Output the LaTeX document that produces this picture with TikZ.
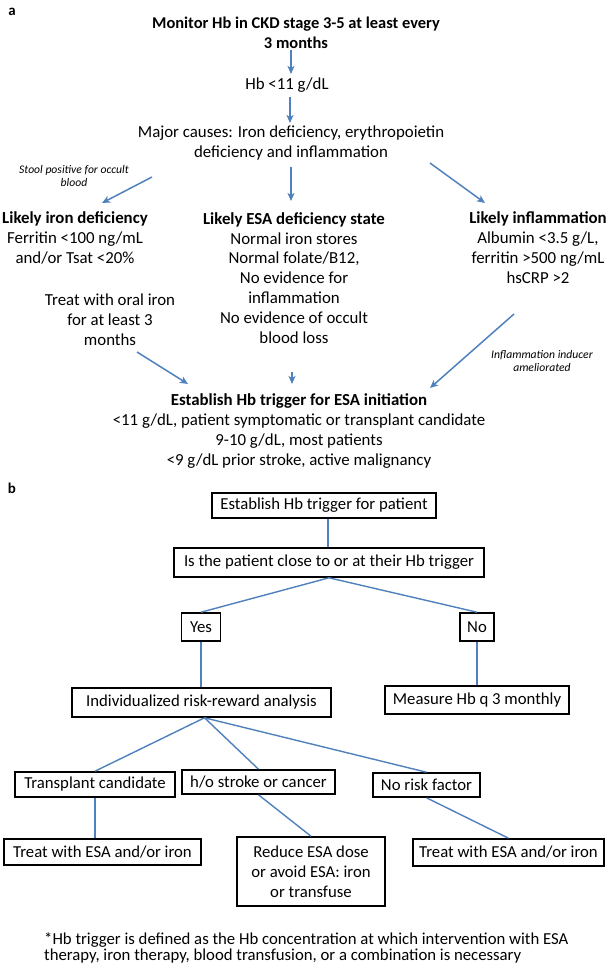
\documentclass[tikz,border=0pt]{standalone}
\usepackage{fontspec}
\setmainfont{Carlito}
\usetikzlibrary{arrows.meta}
\definecolor{arrblue}{RGB}{79,129,189}
\begin{document}
\begin{tikzpicture}[x=1bp,y=-1bp,
  txt/.style={font=\fontsize{16.9}{20}\selectfont, align=center, inner sep=0},
  ttl/.style={font=\bfseries\fontsize{16.5}{20}\selectfont, align=center, inner sep=0},
  note/.style={font=\itshape\fontsize{11.7}{14}\selectfont, align=center, inner sep=0},
  arr/.style={draw=arrblue, line width=1.5bp, -{Stealth[length=8bp,width=7bp,inset=2bp]}},
  conn/.style={draw=arrblue, line width=1.4bp},
  boxn/.style={draw=black, line width=1.6bp, inner sep=0, font=\fontsize{16.8}{20}\selectfont, align=center}]
\useasboundingbox[fill=white] (0,0) rectangle (612,965);

% ---------- part a ----------
\node[font=\bfseries\fontsize{15}{16}\selectfont, inner sep=0] (la) at (12,12) {a};
\node[ttl] (t1) at (296,33) {Monitor Hb in CKD stage 3-5 at least every\\3 months};
\node[txt] (hb) at (287,85) {Hb <11 g/dL};
\node[txt] (mc) at (291,143) {Major causes: Iron deficiency, erythropoietin\\deficiency and inflammation};
\node[note] (stool) at (74,176) {Stool positive for occult\\blood};
\node[txt] (iron) at (75,238) {\textbf{Likely iron deficiency}\\Ferritin <100 ng/mL\\and/or Tsat <20\%};
\node[txt] (esa) at (294,278) {\textbf{Likely ESA deficiency state}\\Normal iron stores\\Normal folate/B12,\\No evidence for\\inflammation\\No evidence of occult\\blood loss};
\node[txt] (infl) at (538,248) {\textbf{Likely inflammation}\\Albumin <3.5 g/L,\\ferritin >500 ng/mL\\hsCRP >2};
\node[txt] (treat) at (110,320) {Treat with oral iron\\for  at least 3\\months};
\node[note] (ind) at (542,361) {Inflammation inducer\\ameliorated};
\node[txt] (est) at (299,431) {\textbf{Establish Hb trigger for ESA initiation}\\<11 g/dL, patient symptomatic or transplant candidate\\9-10 g/dL, most patients\\<9 g/dL prior stroke, active malignancy};

\coordinate (a1s) at (291,50);  \coordinate (a1e) at (291,74);
\coordinate (a2s) at (290,97);  \coordinate (a2e) at (290,123);
\coordinate (a3s) at (152,177); \coordinate (a3e) at (102,203);
\coordinate (a4s) at (291,167); \coordinate (a4e) at (291,201);
\coordinate (a5s) at (430,163); \coordinate (a5e) at (485,203);
\coordinate (a6s) at (137,352); \coordinate (a6e) at (188,384);
\coordinate (a7s) at (292,372); \coordinate (a7e) at (292,384);
\coordinate (a8s) at (514,314); \coordinate (a8e) at (430,388);
\draw[arr] (a1s) -- (a1e);
\draw[arr] (a2s) -- (a2e);
\draw[arr] (a3s) -- (a3e);
\draw[arr] (a4s) -- (a4e);
\draw[arr] (a5s) -- (a5e);
\draw[arr] (a6s) -- (a6e);
\draw[arr] (a7s) -- (a7e);
\draw[arr] (a8s) -- (a8e);

% ---------- part b ----------
\node[font=\bfseries\fontsize{15}{16}\selectfont, inner sep=0] (lb) at (12,488) {b};
\node[boxn, minimum width=224bp, minimum height=25bp] (b1) at (324,505.5) {Establish Hb trigger for patient};
\node[boxn, minimum width=310bp, minimum height=29bp] (b2) at (329,562.5) {Is the patient  close to or at their Hb trigger};
\node[boxn, minimum width=39bp, minimum height=28bp] (yes) at (201,627) {Yes};
\node[boxn, minimum width=34bp, minimum height=28bp] (no) at (477,627) {No};
\node[boxn, minimum width=259bp, minimum height=29bp] (indiv) at (201.5,702.5) {Individualized risk-reward analysis};
\node[boxn, minimum width=184bp, minimum height=28bp] (meas) at (477,700) {Measure Hb q 3 monthly};
\node[boxn, minimum width=160bp, minimum height=25bp] (trans) at (95,784.5) {Transplant candidate};
\node[boxn, minimum width=153bp, minimum height=24bp] (ho) at (258.5,782) {h/o stroke or cancer};
\node[boxn, minimum width=107bp, minimum height=24bp] (nor) at (426.5,785) {No risk factor};
\node[boxn, minimum width=197bp, minimum height=26bp] (tl) at (102.5,852) {Treat with ESA and/or iron};
\node[boxn, minimum width=148bp, minimum height=69bp] (red) at (311,871.5) {Reduce ESA dose\\or avoid ESA: iron\\or transfuse};
\node[boxn, minimum width=191bp, minimum height=27bp] (tr) at (508.5,852.5) {Treat with ESA and/or iron};

\draw[conn] ([xshift=4bp]b1.south) -- ([xshift=4bp]b1.south |- b2.north);
\draw[conn] (b2.south) -- (yes.north);
\draw[conn] (b2.south) -- (no.north);
\draw[conn] (yes.south) -- (yes.south |- indiv.north);
\draw[conn] (no.south) -- (no.south |- meas.north);
\draw[conn] ([xshift=3bp]indiv.south) -- (trans.north);
\draw[conn] ([xshift=3bp]indiv.south) -- (ho.north);
\draw[conn] ([xshift=3bp]indiv.south) -- (nor.north);
\draw[conn] (trans.south) -- (trans.south |- tl.north);
\draw[conn] (ho.south) -- (red.north);
\draw[conn] (nor.south) -- (tr.north);

\node[font=\fontsize{16.8}{16}\selectfont, align=left, inner sep=0, anchor=west] (fn) at (44,948) {*Hb trigger is defined as the Hb concentration at which intervention with ESA\\therapy, iron therapy, blood transfusion, or a combination is necessary};
\end{tikzpicture}
\end{document}
